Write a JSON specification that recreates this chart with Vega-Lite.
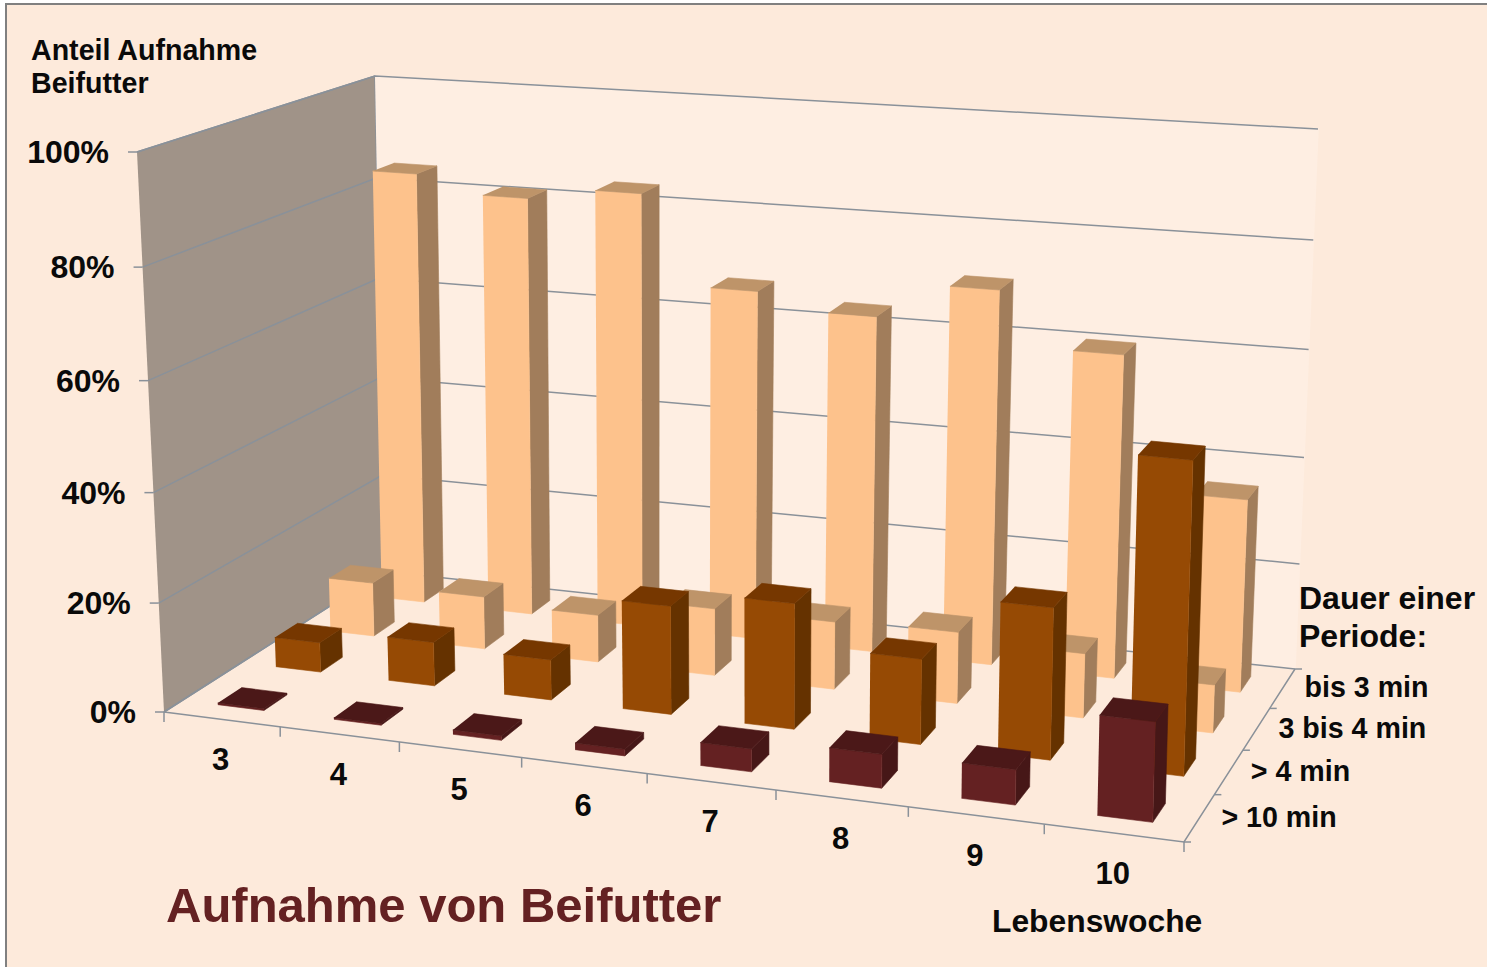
{
"$schema":"https://vega.github.io/schema/vega-lite/v6.json",
"autosize":{"type":"fit","contains":"padding"},
"width":1487,"height":967,"padding":0,
"background":"#ffffff",
"config":{"view":{"stroke":null},"text":{"font":"Liberation Sans","fontWeight":"bold","color":"#0a0a0a"}},
"datasets":{
"bars":[
{"week":3,"series":"bis 3 min","pct":84.5},{"week":4,"series":"bis 3 min","pct":81.3},{"week":5,"series":"bis 3 min","pct":83.7},{"week":6,"series":"bis 3 min","pct":66.9},{"week":7,"series":"bis 3 min","pct":63.9},{"week":8,"series":"bis 3 min","pct":70.6},{"week":9,"series":"bis 3 min","pct":60.5},{"week":10,"series":"bis 3 min","pct":35.9},
{"week":3,"series":"3 bis 4 min","pct":10.4},{"week":4,"series":"3 bis 4 min","pct":10.1},{"week":5,"series":"3 bis 4 min","pct":9},{"week":6,"series":"3 bis 4 min","pct":12.7},{"week":7,"series":"3 bis 4 min","pct":12.7},{"week":8,"series":"3 bis 4 min","pct":13.3},{"week":9,"series":"3 bis 4 min","pct":11.9},{"week":10,"series":"3 bis 4 min","pct":8.8},
{"week":3,"series":"> 4 min","pct":5.6},{"week":4,"series":"> 4 min","pct":8.2},{"week":5,"series":"> 4 min","pct":7.5},{"week":6,"series":"> 4 min","pct":20},{"week":7,"series":"> 4 min","pct":23},{"week":8,"series":"> 4 min","pct":15.5},{"week":9,"series":"> 4 min","pct":27.3},{"week":10,"series":"> 4 min","pct":55.5},
{"week":3,"series":"> 10 min","pct":0.3},{"week":4,"series":"> 10 min","pct":0.3},{"week":5,"series":"> 10 min","pct":0.8},{"week":6,"series":"> 10 min","pct":1.2},{"week":7,"series":"> 10 min","pct":4.1},{"week":8,"series":"> 10 min","pct":6},{"week":9,"series":"> 10 min","pct":6.2},{"week":10,"series":"> 10 min","pct":17.4}
],
"walls":[{"wall":"side"},{"wall":"back"}],
"pcts":[{"pct":0,"label":"0%"},{"pct":20,"label":"20%"},{"pct":40,"label":"40%"},{"pct":60,"label":"60%"},{"pct":80,"label":"80%"},{"pct":100,"label":"100%"}],
"weeks":[{"week":3},{"week":4},{"week":5},{"week":6},{"week":7},{"week":8},{"week":9},{"week":10}],
"edges":[{"k":0},{"k":1},{"k":2},{"k":3},{"k":4},{"k":5},{"k":6},{"k":7},{"k":8}],
"depth":[{"k":0},{"k":1},{"k":2},{"k":3},{"k":4}],
"rows":[{"series":"> 10 min","row":0},{"series":"> 4 min","row":1},{"series":"3 bis 4 min","row":2},{"series":"bis 3 min","row":3}]
},
"data":{"name":"walls"},
"encoding":{
"x":{"field":"px","type":"quantitative","scale":{"domain":[0,1487],"nice":false,"zero":false},"axis":null},
"y":{"field":"py","type":"quantitative","scale":{"domain":[967,0],"nice":false,"zero":false},"axis":null}
},
"resolve":{"scale":{"fill":"independent","stroke":"independent"}},
"layer":[
{"data":{"values":[{}]},"mark":{"type":"rect","x":5,"y":3,"x2":1487,"y2":967,"fill":"#808080","stroke":null},"encoding":{"x":null,"y":null}},
{"data":{"values":[{}]},"mark":{"type":"rect","x":7,"y":5,"x2":1487,"y2":967,"fill":"#FDEADB","stroke":null},"encoding":{"x":null,"y":null}},
{"data":{"name":"walls"},
"transform":[
{"fold":["c0","c1","c2","c3"],"as":["corner","unused"]},
{"calculate":"datum.wall==='side'?0:((datum.corner==='c1'||datum.corner==='c2')?8:0)","as":"uu"},
{"calculate":"datum.wall==='side'?((datum.corner==='c1'||datum.corner==='c2')?4:0):4","as":"vv"},
{"calculate":"(datum.corner==='c2'||datum.corner==='c3')?1:0","as":"hh"},
{"calculate":"(datum.uu/8)*0.9/(1-0.1*datum.uu/8)","as":"s"},
{"calculate":"(datum.vv/4)*1.13/(1+0.13*datum.vv/4)","as":"r"},
{"calculate":"(1-datum.s)*(1-datum.r)*(164+datum.hh*(137-164))+datum.s*(1-datum.r)*(1184+datum.hh*(1200-1184))+(1-datum.s)*datum.r*(384+datum.hh*(375-384))+datum.s*datum.r*(1295+datum.hh*(1318-1295))","as":"px"},
{"calculate":"(1-datum.s)*(1-datum.r)*(712+datum.hh*(152-712))+datum.s*(1-datum.r)*(842+datum.hh*(240-842))+(1-datum.s)*datum.r*(571.5+datum.hh*(76-571.5))+datum.s*datum.r*(669+datum.hh*(129-669))","as":"py"}
],
"mark":{"type":"line","clip":false,"strokeWidth":1.5},
"encoding":{
"order":{"field":"corner"},
"detail":{"field":"wall"},
"fill":{"field":"wall","type":"nominal","scale":{"domain":["side","back"],"range":["#A09388","#FEEEE2"]},"legend":null},
"stroke":{"field":"wall","type":"nominal","scale":{"domain":["side","back"],"range":["#8A9199","#FEEEE2"]},"legend":null}
}},
{"data":{"name":"pcts"},
"transform":[
{"fold":["p0","p1","p2"],"as":["corner","unused"]},
{"calculate":"datum.corner==='p2'?8:0","as":"uu"},
{"calculate":"datum.corner==='p0'?0:4","as":"vv"},
{"calculate":"(datum.pct/100)*0.966/(1-0.034*datum.pct/100)","as":"hh"},
{"calculate":"(datum.uu/8)*0.9/(1-0.1*datum.uu/8)","as":"s"},
{"calculate":"(datum.vv/4)*1.13/(1+0.13*datum.vv/4)","as":"r"},
{"calculate":"(1-datum.s)*(1-datum.r)*(164+datum.hh*(137-164))+datum.s*(1-datum.r)*(1184+datum.hh*(1200-1184))+(1-datum.s)*datum.r*(384+datum.hh*(375-384))+datum.s*datum.r*(1295+datum.hh*(1318-1295))","as":"px"},
{"calculate":"(1-datum.s)*(1-datum.r)*(712+datum.hh*(152-712))+datum.s*(1-datum.r)*(842+datum.hh*(240-842))+(1-datum.s)*datum.r*(571.5+datum.hh*(76-571.5))+datum.s*datum.r*(669+datum.hh*(129-669))","as":"py"}
],
"mark":{"type":"line","color":"#8A9199","strokeWidth":1.5},
"encoding":{"order":{"field":"corner"},"detail":{"field":"pct"}}},
{"data":{"values":[{"line":"floor"}]},
"transform":[
{"fold":["p0","p1","p2"],"as":["corner","unused"]},
{"calculate":"datum.corner==='p0'?0:8","as":"uu"},
{"calculate":"datum.corner==='p2'?4:0","as":"vv"},
{"calculate":"(datum.uu/8)*0.9/(1-0.1*datum.uu/8)","as":"s"},
{"calculate":"(datum.vv/4)*1.13/(1+0.13*datum.vv/4)","as":"r"},
{"calculate":"(1-datum.s)*(1-datum.r)*164+datum.s*(1-datum.r)*1184+(1-datum.s)*datum.r*384+datum.s*datum.r*1295","as":"px"},
{"calculate":"(1-datum.s)*(1-datum.r)*712+datum.s*(1-datum.r)*842+(1-datum.s)*datum.r*571.5+datum.s*datum.r*669","as":"py"}
],
"mark":{"type":"line","color":"#8A9199","strokeWidth":1.5},
"encoding":{"order":{"field":"corner"}}},
{"data":{"name":"edges"},
"transform":[
{"calculate":"(datum.k/8)*0.9/(1-0.1*datum.k/8)","as":"s"},
{"calculate":"164+datum.s*(1184-164)","as":"px"},
{"calculate":"712+datum.s*(842-712)","as":"py"},
{"calculate":"datum.py+10","as":"py2"}
],
"mark":{"type":"rule","color":"#8A9199","strokeWidth":1.5},
"encoding":{"y2":{"field":"py2"}}},
{"data":{"name":"depth"},
"transform":[
{"calculate":"(datum.k/4)*1.13/(1+0.13*datum.k/4)","as":"r"},
{"calculate":"1184+datum.r*(1295-1184)","as":"px"},
{"calculate":"842+datum.r*(669-842)","as":"py"},
{"calculate":"datum.px+7","as":"px2"}
],
"mark":{"type":"rule","color":"#8A9199","strokeWidth":1.5},
"encoding":{"x2":{"field":"px2"}}},
{"data":{"name":"pcts"},
"transform":[
{"calculate":"(datum.pct/100)*0.966/(1-0.034*datum.pct/100)","as":"hh"},
{"calculate":"164+datum.hh*(137-164)","as":"px"},
{"calculate":"712+datum.hh*(152-712)","as":"py"},
{"calculate":"datum.px-9","as":"px2"}
],
"mark":{"type":"rule","color":"#8A9199","strokeWidth":1.5},
"encoding":{"x2":{"field":"px2"}}},
{"data":{"name":"bars"},
"transform":[
{"calculate":"indexof(['> 10 min','> 4 min','3 bis 4 min','bis 3 min'],datum.series)","as":"row"},
{"fold":["side","front","top"],"as":["face","unusedFace"]},
{"fold":["c0","c1","c2","c3"],"as":["corner","unusedCorner"]},
{"calculate":"datum.series+'|'+datum.face","as":"shade"},
{"calculate":"datum.week+'|'+datum.series+'|'+datum.face","as":"piece"},
{"calculate":"datum.face==='side'||datum.corner==='c1'||datum.corner==='c2'","as":"isRight"},
{"calculate":"datum.face==='side'?(datum.corner==='c1'||datum.corner==='c2'):(datum.face==='top'&&(datum.corner==='c2'||datum.corner==='c3'))","as":"isBack"},
{"calculate":"datum.face==='top'||datum.corner==='c2'||datum.corner==='c3'","as":"isUp"},
{"calculate":"datum.week-3+(datum.isRight?0.71:0.31)","as":"uu"},
{"calculate":"datum.row+(datum.isBack?0.7:0.3)","as":"vv"},
{"calculate":"datum.isUp?(datum.pct/100)*0.966/(1-0.034*datum.pct/100):0","as":"hh"},
{"calculate":"(datum.uu/8)*0.9/(1-0.1*datum.uu/8)","as":"s"},
{"calculate":"(datum.vv/4)*1.13/(1+0.13*datum.vv/4)","as":"r"},
{"calculate":"(1-datum.s)*(1-datum.r)*(164+datum.hh*(137-164))+datum.s*(1-datum.r)*(1184+datum.hh*(1200-1184))+(1-datum.s)*datum.r*(384+datum.hh*(375-384))+datum.s*datum.r*(1295+datum.hh*(1318-1295))","as":"px"},
{"calculate":"(1-datum.s)*(1-datum.r)*(712+datum.hh*(152-712))+datum.s*(1-datum.r)*(842+datum.hh*(240-842))+(1-datum.s)*datum.r*(571.5+datum.hh*(76-571.5))+datum.s*datum.r*(669+datum.hh*(129-669))","as":"py"}
],
"mark":{"type":"line","strokeWidth":0.6},
"encoding":{
"order":{"field":"corner"},
"detail":{"field":"piece"},
"fill":{"field":"shade","type":"nominal","scale":{"domain":["bis 3 min|front","bis 3 min|side","bis 3 min|top","3 bis 4 min|front","3 bis 4 min|side","3 bis 4 min|top","> 4 min|front","> 4 min|side","> 4 min|top","> 10 min|front","> 10 min|side","> 10 min|top"],"range":["#FDC28C","#A17D5B","#BE9469","#FDC28C","#A17D5B","#BE9469","#964A04","#653200","#763700","#642122","#461717","#4B1818"]},"legend":null},
"stroke":{"field":"shade","type":"nominal","scale":{"domain":["bis 3 min|front","bis 3 min|side","bis 3 min|top","3 bis 4 min|front","3 bis 4 min|side","3 bis 4 min|top","> 4 min|front","> 4 min|side","> 4 min|top","> 10 min|front","> 10 min|side","> 10 min|top"],"range":["#FDC28C","#A17D5B","#BE9469","#FDC28C","#A17D5B","#BE9469","#964A04","#653200","#763700","#642122","#461717","#4B1818"]},"legend":null}
}},
{"data":{"name":"pcts"},
"transform":[
{"calculate":"(datum.pct/100)*0.966/(1-0.034*datum.pct/100)","as":"hh"},
{"calculate":"164+datum.hh*(137-164)","as":"px"},
{"calculate":"712+datum.hh*(152-712)","as":"py"}
],
"mark":{"type":"text","align":"right","baseline":"middle","dx":-28,"dy":1,"fontSize":32},
"encoding":{"text":{"field":"label"}}},
{"data":{"name":"weeks"},
"transform":[
{"calculate":"datum.week-2.5","as":"uu"},
{"calculate":"(datum.uu/8)*0.9/(1-0.1*datum.uu/8)","as":"s"},
{"calculate":"164+datum.s*(1184-164)","as":"px"},
{"calculate":"712+datum.s*(842-712)","as":"py"}
],
"mark":{"type":"text","align":"center","baseline":"middle","dx":-1,"dy":41.5,"fontSize":31},
"encoding":{"text":{"field":"week"}}},
{"data":{"name":"rows"},
"transform":[
{"calculate":"datum.row+0.5","as":"vv"},
{"calculate":"(datum.vv/4)*1.13/(1+0.13*datum.vv/4)","as":"r"},
{"calculate":"1184+datum.r*(1295-1184)","as":"px"},
{"calculate":"842+datum.r*(669-842)","as":"py"}
],
"mark":{"type":"text","align":"left","baseline":"middle","dx":22,"fontSize":28.6},
"encoding":{"text":{"field":"series"}}},
{"data":{"values":[{}]},"mark":{"type":"text","x":31,"y":60,"align":"left","baseline":"alphabetic","fontSize":28.6,"lineHeight":33,"text":["Anteil Aufnahme","Beifutter"]},"encoding":{"x":null,"y":null}},
{"data":{"values":[{}]},"mark":{"type":"text","x":1299,"y":609,"align":"left","baseline":"alphabetic","fontSize":32,"lineHeight":38,"text":["Dauer einer","Periode:"]},"encoding":{"x":null,"y":null}},
{"data":{"values":[{}]},"mark":{"type":"text","x":992,"y":932,"align":"left","baseline":"alphabetic","fontSize":31.8,"text":"Lebenswoche"},"encoding":{"x":null,"y":null}},
{"data":{"values":[{}]},"mark":{"type":"text","x":166,"y":922,"align":"left","baseline":"alphabetic","fontSize":49,"color":"#642122","text":"Aufnahme von Beifutter"},"encoding":{"x":null,"y":null}}
]
}
